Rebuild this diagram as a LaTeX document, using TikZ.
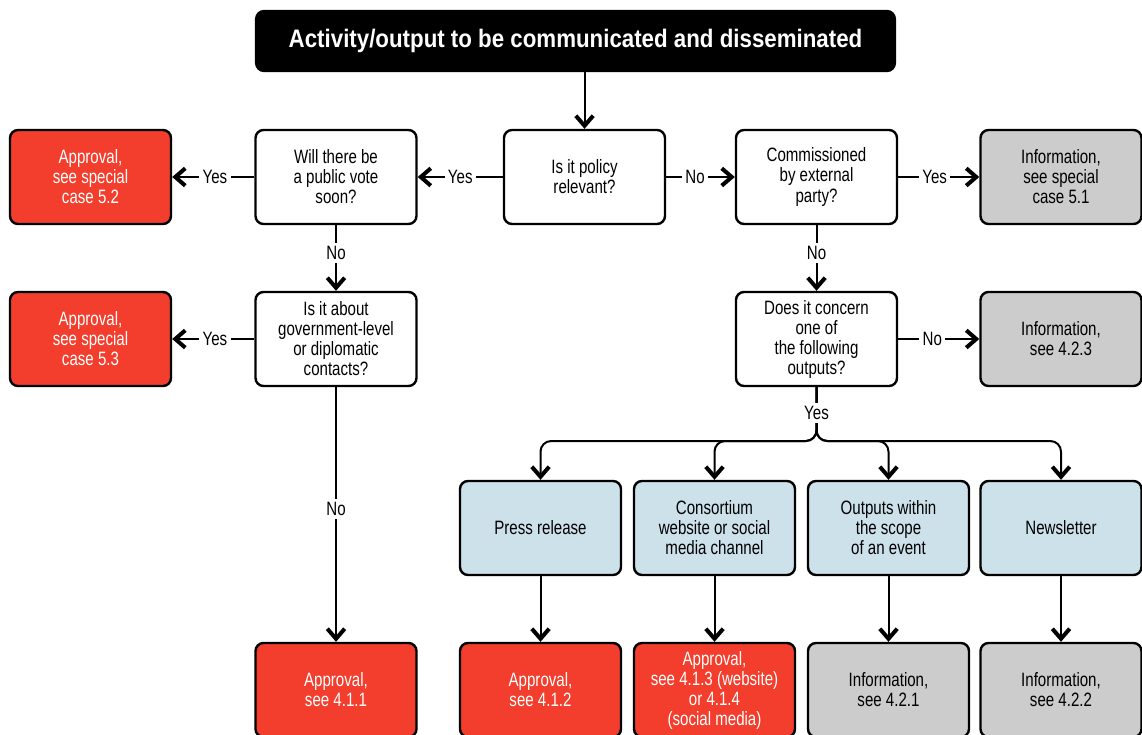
\documentclass[tikz,border=0pt]{standalone}
\usepackage{fontspec}
\setmainfont{Liberation Sans}[FakeStretch=0.78]
\newfontfamily\titlefont{Liberation Sans}[FakeStretch=0.88]
\usetikzlibrary{arrows.meta}
\definecolor{appred}{RGB}{243,62,45}
\definecolor{infogrey}{RGB}{204,204,204}
\definecolor{outblue}{RGB}{205,225,235}
\begin{document}
\begin{tikzpicture}[x=0.75pt,y=-0.75pt,
  box/.style={draw=black, line width=1.8pt, rounded corners=6pt,
    minimum width=120.75pt, minimum height=70.5pt, align=center,
    inner sep=2pt, font=\fontsize{14.5}{15}\selectfont},
  qbox/.style={box, fill=white},
  apbox/.style={box, fill=appred, text=white},
  infobox/.style={box, fill=infogrey},
  outbox/.style={box, fill=outblue},
  arr/.style={line width=1.5pt, -{Straight Barb[length=7.5pt,width=13pt,line width=3pt]}},
  lab/.style={fill=white, inner sep=2.5pt, font=\fontsize{14.5}{15}\selectfont}
]
\useasboundingbox (0,0) rectangle (1142,735);

% title
\node[draw=black, line width=1.8pt, fill=black, rounded corners=6pt,
  minimum width=479pt, minimum height=45pt, text=white,
  font=\titlefont\bfseries\fontsize{19}{22}\selectfont] (top) at (575.5,41)
  {Activity/output to be communicated and disseminated};

% row 1
\node[apbox]   (a52)    at (90.5,177) {Approval,\\see special\\case 5.2};
\node[qbox]    (will)   at (336,177)  {Will there be\\a public vote\\soon?};
\node[qbox]    (policy) at (584.5,177){Is it policy\\relevant?};
\node[qbox]    (comm)   at (816.5,177){Commissioned\\by external\\party?};
\node[infobox] (i51)    at (1061,177) {Information,\\see special\\case 5.1};

% row 2
\node[apbox]   (a53)    at (90.5,339) {Approval,\\see special\\case 5.3};
\node[qbox]    (about)  at (336,339)  {Is it about\\government-level\\or diplomatic\\contacts?};
\node[qbox]    (does)   at (816.5,339){Does it concern\\one of\\the following\\outputs?};
\node[infobox] (i423)   at (1061,339) {Information,\\see 4.2.3};

% row 3
\node[outbox] (b1) at (540.5,528) {Press release};
\node[outbox] (b2) at (714.5,528) {Consortium\\website or social\\media channel};
\node[outbox] (b3) at (888.5,528) {Outputs within\\the scope\\of an event};
\node[outbox] (b4) at (1061,528)  {Newsletter};

% row 4
\node[apbox]   (a411) at (336,690)   {Approval,\\see 4.1.1};
\node[apbox]   (a412) at (540.5,690) {Approval,\\see 4.1.2};
\node[apbox]   (a413) at (714.5,690) {Approval,\\see 4.1.3 (website)\\or 4.1.4\\(social media)};
\node[infobox] (i421) at (888.5,690) {Information,\\see 4.2.1};
\node[infobox] (i422) at (1061,690)  {Information,\\see 4.2.2};

% connectors
\draw[arr] (policy.north |- top.south) -- (policy.north);
\draw[arr] (policy) -- node[lab, pos=0.5] {Yes} (will);
\draw[arr] (will) -- node[lab, pos=0.48] {Yes} (a52);
\draw[arr] (policy) -- node[lab, pos=0.42] {No} (comm);
\draw[arr] (comm) -- node[lab, pos=0.45] {Yes} (i51);
\draw[arr] (will) -- node[lab, pos=0.43] {No} (about);
\draw[arr] (comm) -- node[lab, pos=0.43] {No} (does);
\draw[arr] (about) -- node[lab, pos=0.48] {Yes} (a53);
\draw[arr] (does) -- node[lab, pos=0.42] {No} (i423);
\draw[arr] (about) -- node[lab, pos=0.48] {No} (a411);

\coordinate (j) at (816.5,441);
\foreach \b in {b1,b2,b3,b4}{
  \draw[arr, rounded corners=8pt] (does.south) |- (\b.north |- j) -- (\b.north);
}
\node[lab] at (816.5,413) {Yes};

\draw[arr] (b1) -- (a412);
\draw[arr] (b2) -- (a413);
\draw[arr] (b3) -- (i421);
\draw[arr] (b4) -- (i422);
\end{tikzpicture}
\end{document}
